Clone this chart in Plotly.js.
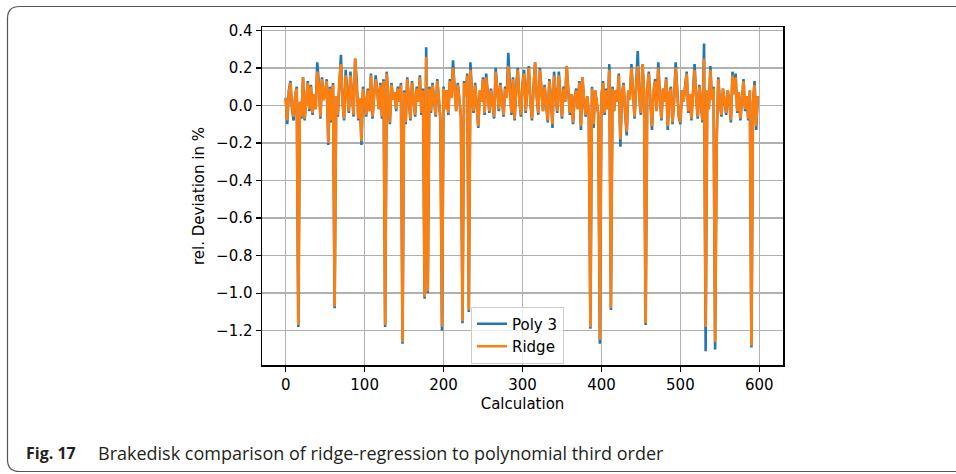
<!DOCTYPE html>
<html>
<head>
<meta charset="utf-8">
<script src="https://cdn.plot.ly/plotly-3.0.1.min.js"></script>
<style>
html,body{margin:0;padding:0;background:#fff;}
#chart{width:956px;height:474px;}
</style>
</head>
<body>
<div id="chart"></div>
<script>
// Calculation index starts at 0, one sample every 2 calculations
const calcStart = 0;
const calcStep = 2;

const seriesNames = ["Poly 3", "Ridge"];

const poly3 = [
  0.04, -0.10, 0.08, 0.13, -0.02, -0.08, 0.05, 0.10, -1.18, 0.02,
  -0.07, 0.15, -0.08, 0.02, 0.13, -0.03, 0.11, -0.05, 0.06, -0.02,
  0.23, 0.12, -0.07, 0.15, 0.03, 0.06, 0.14, -0.21, 0.10, -0.09,
  0.12, -1.08, 0.05, -0.06, 0.15, 0.27, 0.02, -0.08, 0.19, 0.06,
  -0.04, 0.18, 0.04, -0.06, 0.25, 0.13, -0.08, 0.04, -0.21, 0.10,
  0.02, -0.06, 0.09, -0.03, 0.17, -0.07, 0.05, 0.16, 0.08, -0.02,
  0.12, -0.07, 0.14, -1.18, 0.18, 0.05, -0.10, 0.12, 0.03, 0.07,
  -0.03, 0.10, 0.02, 0.12, -1.27, 0.08, -0.10, 0.15, 0.02, -0.08,
  0.13, 0.05, -0.06, 0.10, 0.02, 0.16, -0.05, 0.09, -1.03, 0.31,
  -1.00, 0.10, -0.04, 0.12, 0.03, -0.06, 0.14, 0.05, -0.08, -1.20,
  0.10, -0.02, 0.08, -0.05, 0.14, 0.04, 0.24, 0.09, -0.03, 0.12,
  0.02, -0.06, -1.16, 0.13, 0.05, 0.17, -1.10, 0.23, 0.06, -0.04,
  0.12, -0.02, -0.12, 0.08, 0.02, 0.15, -0.05, 0.17, 0.04, -0.04,
  0.09, 0.01, -0.07, 0.20, 0.05, -0.03, 0.12, 0.02, -0.06, 0.10,
  0.04, 0.28, 0.07, -0.05, 0.15, -0.08, 0.10, 0.20, 0.03, -0.06,
  0.12, 0.19, -0.04, 0.08, 0.21, 0.02, -0.08, 0.10, 0.23, 0.05,
  -0.05, 0.20, 0.07, -0.03, 0.11, 0.01, -0.09, 0.14, 0.04, -0.12,
  0.18, 0.06, -0.04, 0.18, 0.03, -0.07, 0.10, 0.02, 0.21, 0.08,
  -0.05, 0.06, -0.10, 0.04, 0.09, -0.02, 0.13, -0.13, 0.15, 0.02,
  -0.06, 0.05, -0.04, -1.19, 0.10, -0.12, 0.08, 0.02, -0.05, -1.27,
  0.05, 0.13, -0.05, 0.09, -0.02, 0.22, -1.09, 0.10, -0.03, 0.08,
  0.02, 0.17, -0.22, 0.06, 0.12, -0.04, -0.16, 0.08, 0.03, 0.22,
  0.05, -0.07, 0.12, 0.29, 0.04, -0.05, 0.22, 0.07, -1.17, 0.08,
  0.18, 0.02, -0.13, 0.07, 0.14, -0.03, 0.23, 0.05, -0.08, 0.09,
  0.02, 0.15, -0.13, 0.06, 0.10, -0.10, 0.02, 0.23, 0.06, -0.06,
  -0.10, 0.08, 0.02, 0.12, 0.18, -0.04, 0.06, -0.08, 0.10, 0.22,
  0.04, -0.07, 0.11, 0.02, -0.09, 0.33, -1.31, 0.08, -0.02, 0.21,
  0.03, 0.10, -1.30, -0.19, 0.15, 0.02, -0.06, 0.09, 0.03, -0.05,
  0.08, 0.02, -0.09, 0.18, 0.06, 0.17, -0.04, 0.07, -0.08, 0.03,
  0.14, -0.03, 0.05, -0.08, 0.08, -1.29, 0.02, 0.13, -0.13, 0.05
];

const ridge = [
  0.04, -0.08, 0.07, 0.12, -0.01, -0.06, 0.05, 0.09, -1.17, 0.02,
  -0.06, 0.15, -0.07, 0.02, 0.12, -0.02, 0.10, -0.04, 0.06, -0.02,
  0.18, 0.11, -0.06, 0.14, 0.03, 0.06, 0.13, -0.20, 0.09, -0.08,
  0.11, -1.07, 0.05, -0.05, 0.14, 0.22, 0.02, -0.07, 0.16, 0.06,
  -0.03, 0.16, 0.04, -0.05, 0.25, 0.12, -0.07, 0.04, -0.19, 0.09,
  0.02, -0.05, 0.08, -0.03, 0.16, -0.06, 0.05, 0.14, 0.07, -0.02,
  0.11, -0.06, 0.13, -1.17, 0.17, 0.05, -0.09, 0.11, 0.03, 0.07,
  -0.02, 0.09, 0.02, 0.11, -1.26, 0.07, -0.09, 0.14, 0.02, -0.07,
  0.12, 0.05, -0.05, 0.09, 0.02, 0.15, -0.04, 0.08, -1.02, 0.26,
  -0.99, 0.09, -0.03, 0.11, 0.03, -0.05, 0.13, 0.05, -0.07, -1.18,
  0.09, -0.02, 0.08, -0.04, 0.13, 0.04, 0.20, 0.08, -0.03, 0.11,
  0.02, -0.05, -1.15, 0.12, 0.05, 0.16, -1.09, 0.19, 0.06, -0.03,
  0.11, -0.02, -0.11, 0.08, 0.02, 0.14, -0.04, 0.15, 0.04, -0.03,
  0.08, 0.01, -0.06, 0.18, 0.05, -0.02, 0.11, 0.02, -0.05, 0.09,
  0.04, 0.21, 0.07, -0.04, 0.14, -0.07, 0.09, 0.19, 0.03, -0.05,
  0.11, 0.17, -0.03, 0.08, 0.20, 0.02, -0.07, 0.09, 0.23, 0.05,
  -0.04, 0.19, 0.07, -0.03, 0.10, 0.01, -0.08, 0.13, 0.04, -0.10,
  0.16, 0.06, -0.03, 0.16, 0.03, -0.06, 0.09, 0.02, 0.21, 0.08,
  -0.04, 0.06, -0.09, 0.04, 0.08, -0.02, 0.12, -0.11, 0.15, 0.02,
  -0.05, 0.05, -0.03, -1.18, 0.09, -0.10, 0.08, 0.02, -0.04, -1.25,
  0.05, 0.12, -0.04, 0.08, -0.02, 0.19, -1.08, 0.09, -0.03, 0.08,
  0.02, 0.16, -0.18, 0.06, 0.11, -0.03, -0.14, 0.08, 0.03, 0.20,
  0.05, -0.06, 0.11, 0.21, 0.04, -0.04, 0.22, 0.07, -1.16, 0.08,
  0.17, 0.02, -0.11, 0.07, 0.13, -0.03, 0.20, 0.05, -0.07, 0.09,
  0.02, 0.14, -0.11, 0.06, 0.09, -0.09, 0.02, 0.20, 0.06, -0.05,
  -0.09, 0.08, 0.02, 0.11, 0.17, -0.03, 0.06, -0.07, 0.09, 0.19,
  0.04, -0.06, 0.10, 0.02, -0.08, 0.25, -1.18, 0.08, -0.02, 0.19,
  0.03, 0.09, -1.26, -0.17, 0.14, 0.02, -0.05, 0.09, 0.03, -0.04,
  0.08, 0.02, -0.08, 0.16, 0.06, 0.15, -0.03, 0.07, -0.07, 0.03,
  0.13, -0.02, 0.05, -0.07, 0.08, -1.28, 0.02, 0.11, -0.11, 0.05
];

const xTickVals = [0, 100, 200, 300, 400, 500, 600];
const yTickVals = [-1.2, -1.0, -0.8, -0.6, -0.4, -0.2, 0.0, 0.2, 0.4];

const xTitle = "Calculation";
const yTitle = "rel. Deviation in %";
const captionLabel = "Fig. 17";
const captionText = "Brakedisk comparison of ridge-regression to polynomial third order";

const mplFont = "DejaVu Sans, sans-serif";
const capFont = "Open Sans, sans-serif";

const traces = [
  {type: "scatter", mode: "lines", name: seriesNames[0], x0: calcStart, dx: calcStep, y: poly3,
   line: {color: "#1f77b4", width: 2.6}},
  {type: "scatter", mode: "lines", name: seriesNames[1], x0: calcStart, dx: calcStep, y: ridge,
   line: {color: "#ff7f0e", width: 2.6}}
];

// pixel helpers (plot area: x 262..783, y 27..365)
const L = 262, R = 783, T = 27, B = 365;
const px = v => (v - L) / (R - L);
const py = v => (B - v) / (B - T);

const r = 12;
const framePath =
  "M " + px(960) + "," + py(6.5) +
  " L " + px(7.5 + r) + "," + py(6.5) +
  " Q " + px(7.5) + "," + py(6.5) + " " + px(7.5) + "," + py(6.5 + r) +
  " L " + px(7.5) + "," + py(471.5 - r) +
  " Q " + px(7.5) + "," + py(471.5) + " " + px(7.5 + r) + "," + py(471.5) +
  " L " + px(960) + "," + py(471.5);

const layout = {
  width: 956, height: 474,
  margin: {l: L, r: 956 - R, t: T, b: 474 - B, pad: 0},
  paper_bgcolor: "#ffffff",
  plot_bgcolor: "#ffffff",
  font: {family: mplFont, size: 15, color: "#000"},
  showlegend: true,
  legend: {
    x: px(471), y: py(306.5), xanchor: "left", yanchor: "top",
    bgcolor: "rgba(255,255,255,0.8)", bordercolor: "#cccccc", borderwidth: 1,
    font: {family: mplFont, size: 15, color: "#000"}
  },
  xaxis: {
    range: [-30, 630], tickvals: xTickVals, ticktext: xTickVals.map(String),
    showgrid: true, gridcolor: "#b0b0b0", gridwidth: 1.5,
    zeroline: false, showline: true, linecolor: "#000", linewidth: 1.5, mirror: true,
    ticks: "outside", ticklen: 5, tickwidth: 1.2, tickcolor: "#000",
    tickfont: {family: mplFont, size: 15, color: "#000"},
    title: {text: xTitle, font: {family: mplFont, size: 15, color: "#000"}, standoff: 6}
  },
  yaxis: {
    range: [-1.383, 0.418], tickvals: yTickVals, tickformat: ".1f",
    showgrid: true, gridcolor: "#b0b0b0", gridwidth: 1.5,
    zeroline: false, showline: true, linecolor: "#000", linewidth: 1.5, mirror: true,
    ticks: "outside", ticklen: 5, tickwidth: 1.2, tickcolor: "#000",
    tickfont: {family: mplFont, size: 15, color: "#000"},
    title: {text: yTitle, font: {family: mplFont, size: 15, color: "#000"}, standoff: 8}
  },
  shapes: [
    {type: "path", xref: "paper", yref: "paper", path: framePath,
     line: {color: "#555555", width: 1.2}, fillcolor: "rgba(0,0,0,0)", layer: "below"}
  ],
  annotations: [
    {xref: "paper", yref: "paper", x: px(24), y: py(453), xanchor: "left", yanchor: "middle",
     showarrow: false, text: "<b>" + captionLabel + "</b>",
     font: {family: capFont, size: 16, color: "#231f20"}},
    {xref: "paper", yref: "paper", x: px(96), y: py(453), xanchor: "left", yanchor: "middle",
     showarrow: false, text: captionText,
     font: {family: capFont, size: 18, color: "#231f20"}}
  ]
};

Plotly.newPlot("chart", traces, layout, {displayModeBar: false, staticPlot: true});
</script>
</body>
</html>
